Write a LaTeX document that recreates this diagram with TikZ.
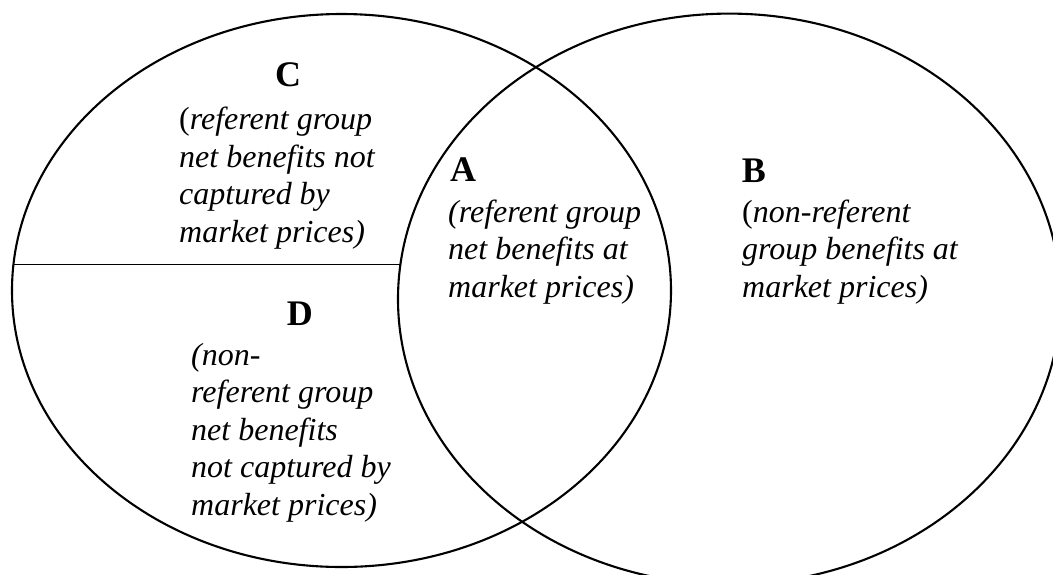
\documentclass[tikz,border=0pt]{standalone}
\usepackage{fontspec}
\setmainfont{Liberation Serif}

\tikzset{
  head/.style={anchor=base west, inner sep=0pt, font=\fontsize{36}{41}\selectfont\bfseries},
  % anchored at the baseline of the last line
  body/.style={anchor=base west, inner sep=0pt, align=left, font=\fontsize{32}{37.5}\selectfont\itshape},
}

\begin{document}
\begin{tikzpicture}[x=1pt, y=-1pt]
    \useasboundingbox (0,0) rectangle (1053,574);
    \clip (0,0) rectangle (1053,574);

    \draw[line width=2.1pt] (341.5,290.5) ellipse [x radius=329.5pt, y radius=276.5pt];
    \draw[line width=2.1pt] (729.3,299) ellipse [x radius=331.3pt, y radius=285.4pt];
    \coordinate (cutL) at (13,264.5);
    \coordinate (cutR) at (400.4,264.5);
    \draw[line width=1.6pt] (cutL) -- (cutR);

    \node[head] (headC) at (275,86) {C};
    \node[body] (textC) at (179,242) {{\upshape(}referent group\\net benefits not\\captured by\\market prices)};

    \node[head] (headA) at (450,181.5) {A};
    \node[body] (textA) at (448,297) {(referent group\\net benefits at\\market prices)};

    \node[head] (headB) at (741.7,182) {B};
    \node[body] (textB) at (742,297) {{\upshape(}non-referent\\group benefits at\\market prices)};

    \node[head] (headD) at (286.7,325) {D};
    \node[body] (textD) at (191,515) {(non-\\referent group\\net benefits\\not captured by\\market prices)};
\end{tikzpicture}
\end{document}
